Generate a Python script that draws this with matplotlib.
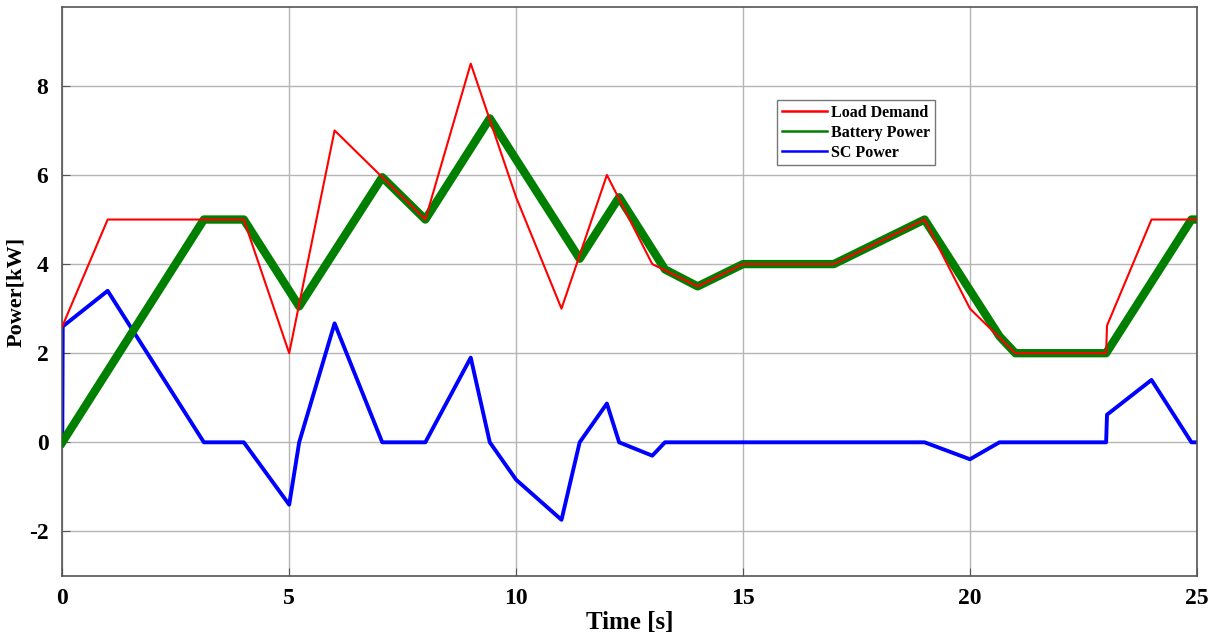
import matplotlib
matplotlib.use("Agg")
import matplotlib.pyplot as plt
from matplotlib.lines import Line2D

plt.rcParams['font.family'] = ['Liberation Serif', 'DejaVu Serif']
plt.rcParams['font.weight'] = 'bold'
plt.rcParams['axes.unicode_minus'] = False

# Load demand breakpoints
load_t = [0, 1, 4, 5, 6, 7, 8, 9, 10, 11, 12, 13, 14, 15, 17, 19, 20, 21, 23, 23.02, 24, 25]
load_p = [2.6, 5, 5, 2, 7, 6, 5, 8.5, 5.5, 3, 6, 4, 3.5, 4, 4, 5, 3, 2, 2, 2.62, 5, 5]

# Battery power breakpoints
batt_t = [0, 3.12, 4.0, 5.22, 7.05, 8.0, 9.42, 11.4, 12.27, 13.28, 14.0, 15.0, 17.0,
          19.0, 20.65, 21.0, 23.0, 24.88, 25]
batt_p = [0, 5.0, 5.0, 3.05, 5.95, 5.0, 7.27, 4.12, 5.5, 3.88, 3.5, 4.0, 4.0,
          5.0, 2.38, 2.0, 2.0, 5.0, 5.0]

# Supercapacitor power breakpoints
sc_t = [0, 0.01, 1.0, 3.12, 4.0, 5.0, 5.22, 6.0, 7.05, 8.0, 9.0, 9.42, 10.0, 11.0, 11.4,
        12.0, 12.27, 13.0, 13.28, 19.0, 20.0, 20.65, 23.0, 23.02, 24.0, 24.88, 25]
sc_p = [0, 2.6, 3.4, 0, 0, -1.4, 0, 2.67, 0, 0, 1.9, 0, -0.84, -1.74, 0,
        0.87, 0, -0.3, 0, 0, -0.38, 0, 0, 0.62, 1.4, 0, 0]

fig = plt.figure(figsize=(12.14, 6.37), dpi=100)
ax = fig.add_axes([0.0513, 0.0958, 0.9346, 0.8932])

ax.plot(load_t, load_p, color='red', lw=1.5, zorder=4)
ax.plot(batt_t, batt_p, color='#007f00', lw=6, zorder=3)
ax.plot(sc_t, sc_p, color='blue', lw=2.8, zorder=2)

ax.set_xlim(0, 25)
ax.set_ylim(-3, 9.77)
ax.set_xticks([0, 5, 10, 15, 20, 25])
ax.set_yticks([-2, 0, 2, 4, 6, 8])
ax.grid(True, color='#b5b5b5', lw=1)
ax.set_axisbelow(True)
ax.tick_params(direction='in', labelsize=17, length=6, color='#555555')
ax.tick_params(axis='y', pad=10)
ax.tick_params(axis='x', pad=9)
for s in ax.spines.values():
    s.set_color('#555555')
    s.set_linewidth(1.2)

ax.set_xlabel('Time [s]', fontsize=18, fontweight='bold', labelpad=1)
ax.set_ylabel('Power[kW]', fontsize=16, fontweight='bold', labelpad=2)

handles = [Line2D([], [], color='red', lw=1.8),
           Line2D([], [], color='#007f00', lw=1.8),
           Line2D([], [], color='blue', lw=1.8)]
leg = ax.legend(handles, ['Load Demand', 'Battery Power', 'SC Power'],
                loc='upper left', bbox_to_anchor=(0.63, 0.837), fontsize=11.5,
                fancybox=False, framealpha=1, edgecolor='#777777',
                handlelength=2.8, handletextpad=0.3, borderpad=0.3,
                labelspacing=0.25, borderaxespad=0)
leg.get_frame().set_linewidth(1)

fig.savefig('out.png', dpi=100)
